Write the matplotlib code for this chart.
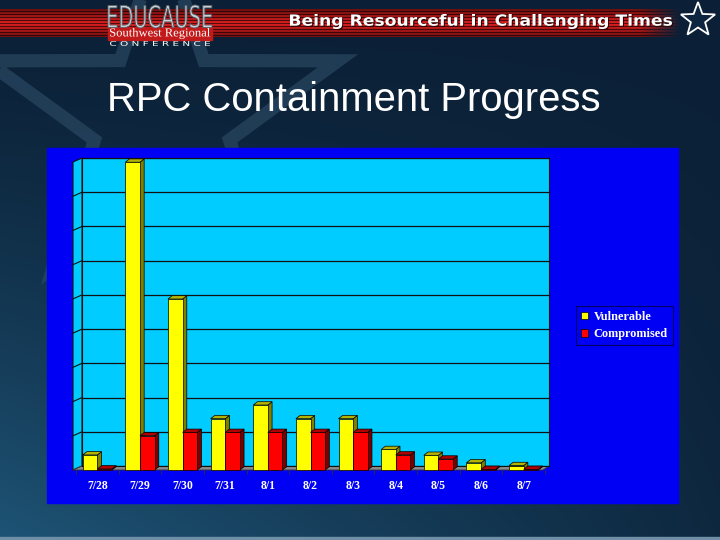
import numpy as np
import matplotlib
matplotlib.use("Agg")
import matplotlib.pyplot as plt
from matplotlib.patches import Polygon, Rectangle, PathPatch
from matplotlib.textpath import TextPath
from matplotlib.font_manager import FontProperties
from matplotlib.transforms import Affine2D

# ---- data ----
categories = ["7/28", "7/29", "7/30", "7/31", "8/1", "8/2", "8/3", "8/4", "8/5", "8/6", "8/7"]
vulnerable = [44, 900, 500, 150, 190, 150, 150, 60, 43, 21, 13]
compromised = [3, 100, 110, 110, 110, 110, 110, 44, 32, 2, 2]
series_names = ["Vulnerable", "Compromised"]
title_text = "RPC Containment Progress"
header_text = "Being Resourceful in Challenging Times"

W, H = 720, 540
fig = plt.figure(figsize=(7.2, 5.4), dpi=100)


def px_rect(x0, y0, x1, y1):
    return [x0 / W, 1 - y1 / H, (x1 - x0) / W, (y1 - y0) / H]


# ---- background / decoration axes in pixel coords ----
bg = fig.add_axes([0, 0, 1, 1], zorder=0)
bg.set_xlim(0, W)
bg.set_ylim(H, 0)
bg.axis("off")

yy, xx = np.mgrid[0:H, 0:W]
t = np.clip((yy / H) ** 1.4 * (1 - 0.85 * xx / W), 0, 1)
c0 = np.array([11, 32, 54]) / 255
c1 = np.array([30, 84, 118]) / 255
img = c0[None, None, :] * (1 - t[..., None]) + c1[None, None, :] * t[..., None]
bg.imshow(img, extent=[0, W, H, 0], aspect="auto", zorder=0)


def star_pts(cx, cy, R, r, rot=0):
    pts = []
    for k in range(10):
        ang = np.deg2rad(90 + rot + 36 * k)
        rad = R if k % 2 == 0 else r
        pts.append((cx + rad * np.cos(ang), cy - rad * np.sin(ang)))
    return pts


# faint big star
bg.add_patch(Polygon(star_pts(162, 118, 185, 71), closed=True, fill=False,
                     edgecolor="#2a4862", lw=9.5, alpha=0.7, zorder=1))
bg.add_patch(Rectangle((0, 537), W, 3, color="#6f8fa6", zorder=1))

# header red stripes
nrow, ncol = 28, 680
stripe = np.zeros((nrow, ncol, 4))
for i in range(nrow):
    base = np.array([0.85, 0.12, 0.12]) if i % 3 != 2 else np.array([0.35, 0.04, 0.05])
    edge = 1 - 0.5 * abs(i - nrow / 2) / (nrow / 2)
    stripe[i, :, :3] = base * edge
fade = np.clip((ncol - np.arange(ncol)) / 40, 0, 1)
stripe[:, :, 3] = fade[None, :]
bg.imshow(stripe, extent=[0, ncol, 37, 9], aspect="auto", zorder=2)


def fit_text(ax, s, x0, y0, x1, y1, color, family="DejaVu Sans", weight="normal",
             ec="none", lw=0, z=5):
    fp = FontProperties(family=family, weight=weight)
    path = TextPath((0, 0), s, size=10, prop=fp)
    bb = path.get_extents()
    sx = (x1 - x0) / bb.width
    sy = (y1 - y0) / bb.height
    tr = Affine2D().translate(-bb.x0, -bb.y0).scale(sx, -sy).translate(x0, y1) + ax.transData
    ax.add_patch(PathPatch(path, transform=tr, facecolor=color, edgecolor=ec, lw=lw, zorder=z))


# logo
bg.add_patch(Rectangle((108, 27), 104, 13, color="#c21a1a", zorder=4))
fit_text(bg, "EDUCAUSE", 108, 5, 212, 28, "#c9d0d6", family="DejaVu Sans", ec="#555d66", lw=0.6)
fit_text(bg, "Southwest Regional", 110, 28, 210, 39, "white", family="Liberation Serif")
fit_text(bg, "C O N F E R E N C E", 110, 41, 210, 46, "white", family="DejaVu Sans")

# header text with shadow
fit_text(bg, header_text, 291, 15, 673, 30, "#300000", family="DejaVu Sans", weight="bold", z=5)
fit_text(bg, header_text, 290, 14, 672, 29, "white", family="DejaVu Sans", weight="bold", z=6)

# header star
bg.add_patch(Polygon(star_pts(698, 20, 18, 7.5), closed=True, facecolor="#0d2540",
                     edgecolor="white", lw=1.3, zorder=6))

# title
bg.text(107, 100, title_text, color="white", fontsize=28.8, family="Liberation Sans",
        va="center", ha="left", zorder=6)

# chart panel
bg.add_patch(Rectangle((47, 148), 631, 355, color="#0000F5", zorder=3))

# left side wall and floor
bg.add_patch(Polygon([(73, 470), (82, 466), (82, 158), (73, 162)], closed=True,
                     facecolor="#00CCFF", edgecolor="#111111", lw=0.8, zorder=4))
bg.add_patch(Polygon([(73, 470), (543, 470), (549, 466), (82, 466)], closed=True,
                     facecolor="#8c8c8c", edgecolor="#333333", lw=0.6, zorder=4))

# ---- back wall axes ----
ymax = 900
axw = fig.add_axes(px_rect(82, 158, 549, 466), zorder=1)
axw.set_facecolor("#00CCFF")
axw.set_xlim(0, 1)
axw.set_ylim(0, ymax)
axw.set_yticks(np.arange(0, ymax + 1, 100))
axw.set_xticks([])
axw.tick_params(axis="y", length=0, labelleft=False)
axw.grid(axis="y", color="#111111", lw=0.9)
for sp in axw.spines.values():
    sp.set_color("#111111")
    sp.set_linewidth(0.8)

# slanted ticks on the left wall
for v in np.arange(100, ymax, 100):
    yb = 466 - v / ymax * 308
    bg.plot([73, 82], [yb + 4, yb], color="#111111", lw=0.8, zorder=5)

# ---- bars axes (front) ----
ax = fig.add_axes(px_rect(76, 470 - 34.2 * 9, 545, 470), zorder=2)
ax.set_facecolor("none")
ax.set_xlim(-0.5, len(categories) - 0.5)
ax.set_ylim(0, ymax)
for sp in ax.spines.values():
    sp.set_visible(False)
ax.set_yticks([])

x = np.arange(len(categories))
bw = 0.343
ddx = 4.2 / 42.6
ddy = 3.3 / 34.2 * 100

cols = [("#FFFF00", "#7f7f00", "#b4b400"), ("#FF0000", "#7a0000", "#b00000")]
handles = []
for si, vals in enumerate([vulnerable, compromised]):
    front, side, top = cols[si]
    lefts = x - bw if si == 0 else x
    for xl, v in zip(lefts, vals):
        xr = xl + bw
        ax.add_patch(Polygon([(xr, 0), (xr + ddx, ddy), (xr + ddx, v + ddy), (xr, v)],
                             closed=True, facecolor=side, edgecolor="black", lw=0.5,
                             zorder=3 + 2 * si, clip_on=False))
        ax.add_patch(Polygon([(xl, v), (xr, v), (xr + ddx, v + ddy), (xl + ddx, v + ddy)],
                             closed=True, facecolor=top, edgecolor="black", lw=0.5,
                             zorder=3 + 2 * si, clip_on=False))
    bars = ax.bar(lefts, vals, width=bw, align="edge", color=front, edgecolor="black",
                  lw=0.5, zorder=4 + 2 * si, clip_on=False)
    handles.append(bars)

ax.set_xticks(x)
ax.set_xticklabels(categories, color="white", fontsize=8.5, family="Liberation Serif",
                   fontweight="bold")
ax.tick_params(axis="x", length=0, pad=7)
ax.set_xticks(np.arange(-0.5, len(categories), 1), minor=True)
ax.tick_params(axis="x", which="minor", length=3, color="#333333", width=0.6)

leg = ax.legend(handles, series_names, loc="upper left",
                bbox_to_anchor=(576 / W, 1 - 306 / H), bbox_transform=fig.transFigure,
                frameon=True, fancybox=False, facecolor="#0000F5", edgecolor="#000060",
                framealpha=1, borderaxespad=0, borderpad=0.4, labelspacing=0.45,
                handlelength=0.6, handleheight=0.6, handletextpad=0.45,
                prop=FontProperties(family="Liberation Serif", weight="bold", size=8.8))
for txt in leg.get_texts():
    txt.set_color("white")
leg.get_frame().set_linewidth(0.8)

fig.savefig("out.png", dpi=100)
